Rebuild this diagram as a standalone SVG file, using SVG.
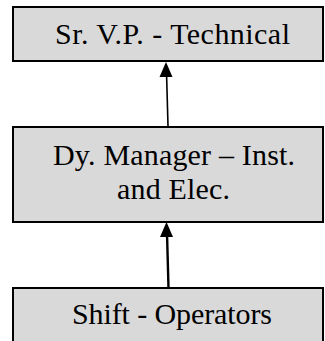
<svg xmlns="http://www.w3.org/2000/svg" width="325" height="341" viewBox="0 0 325 341">
<style>
.box{fill:#d9d9d9;stroke:#000;stroke-width:2}
.t{font-size:30px;fill:#000;text-anchor:middle}
.c{stroke:#000;fill:none}
</style>
<rect width="325" height="341" fill="#fff"/>
<g font-family="'Liberation Serif', 'Times New Roman', 'DejaVu Serif', serif">
<g id="n1"><rect class="box" x="13" y="7" width="310" height="54"/><text class="t" x="172.5" y="44" textLength="235">Sr. V.P. - Technical</text></g>
<g id="n2"><rect class="box" x="13" y="127" width="310" height="95"/><text class="t" x="174" y="165" textLength="242">Dy. Manager – Inst.</text><text class="t" x="173.5" y="199" textLength="113">and Elec.</text></g>
<g id="n3"><rect class="box" x="13" y="288" width="310" height="60"/><text class="t" x="172" y="324" textLength="200">Shift - Operators</text></g>
</g>
<g id="connectors">
<path class="c" stroke-width="1.6" d="M168,126 L166.5,72"/>
<path d="M166,62 L159.5,77 L172.5,77 Z" fill="#000"/>
<path class="c" stroke-width="2.4" d="M168.5,288 L167,233"/>
<path d="M166.5,222 L160,237 L173,237 Z" fill="#000"/>
</g>
</svg>
